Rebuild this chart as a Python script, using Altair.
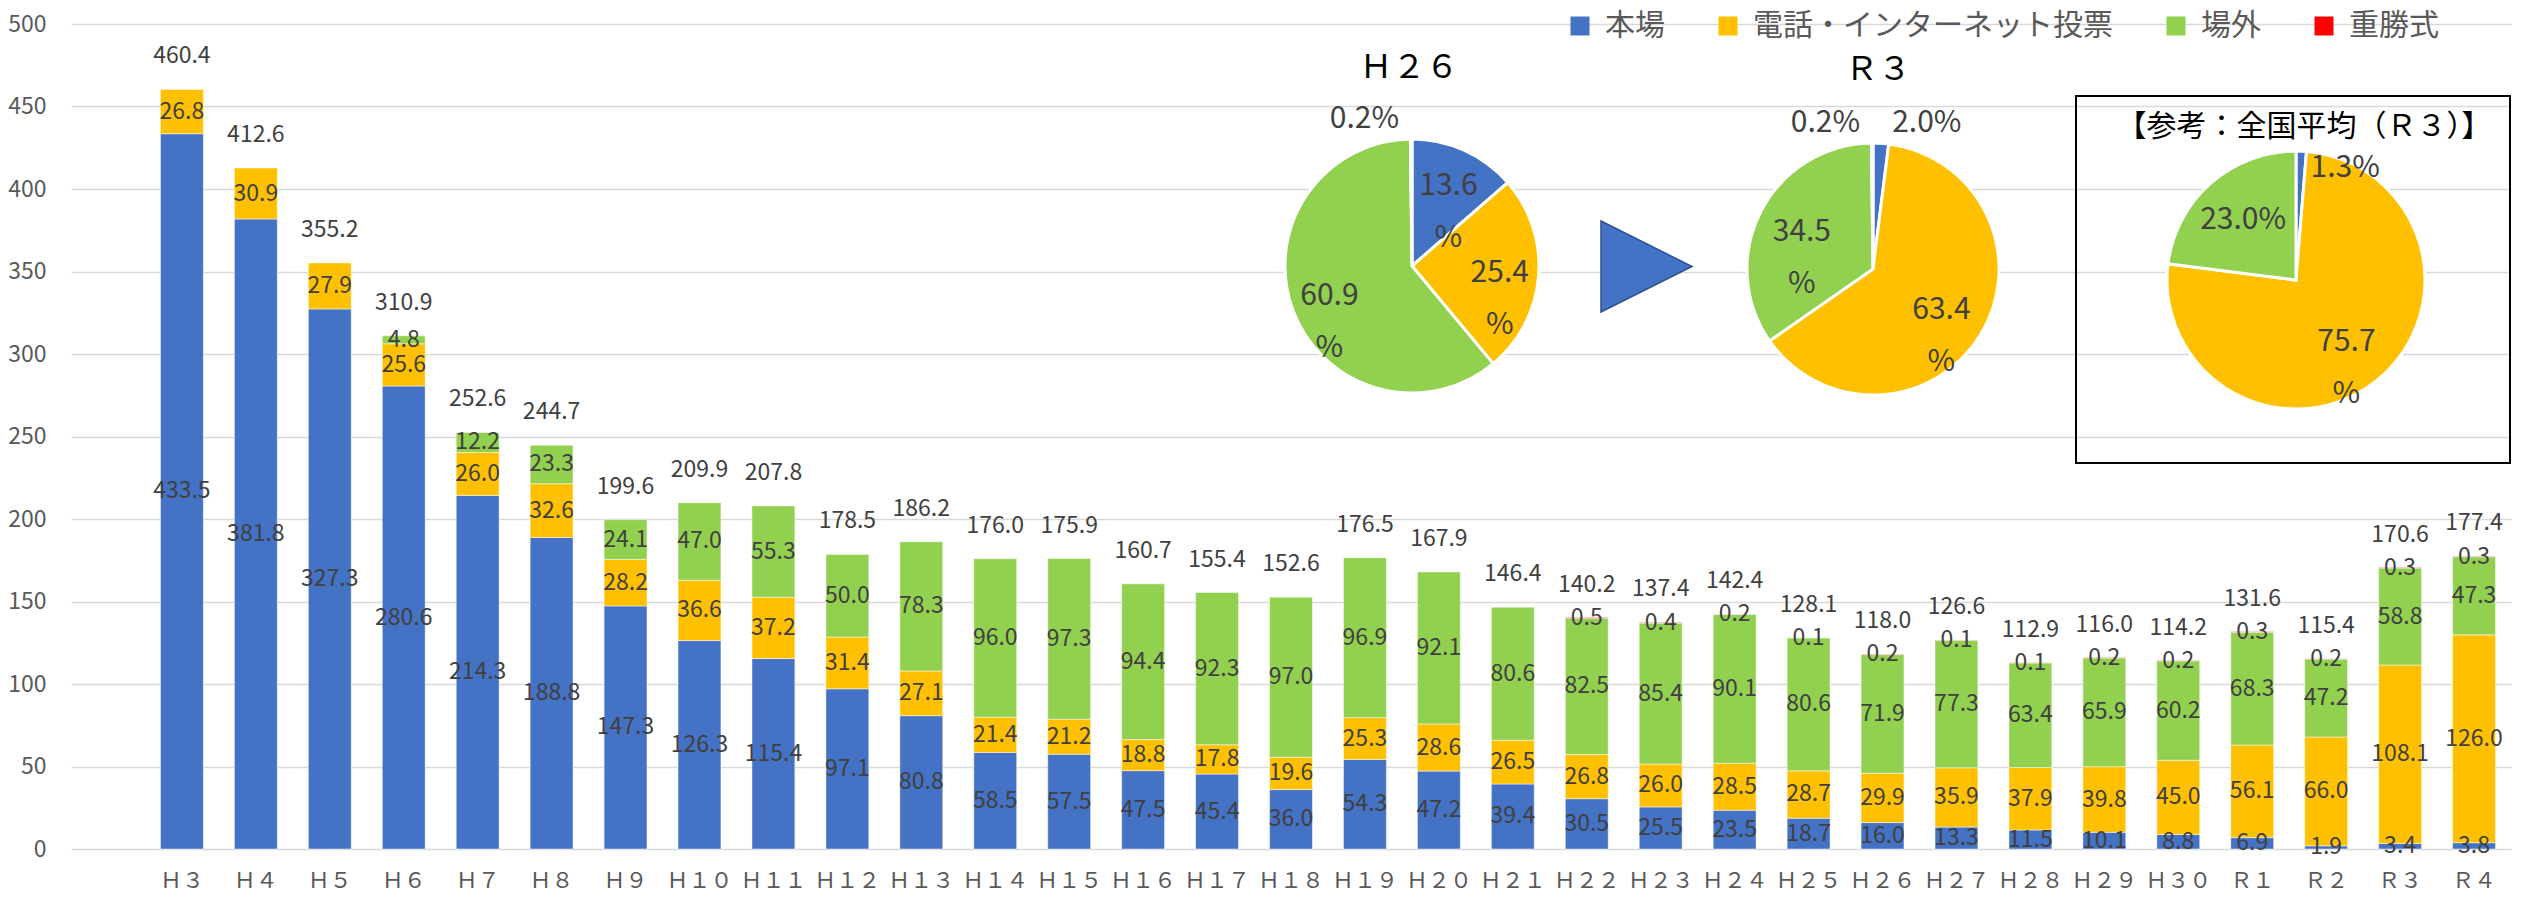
import altair as alt
import pandas as pd

FONT = "Noto Sans CJK JP"

# ---------------- data ----------------
years = ["Ｈ３", "Ｈ４", "Ｈ５", "Ｈ６", "Ｈ７", "Ｈ８", "Ｈ９", "Ｈ１０", "Ｈ１１", "Ｈ１２",
         "Ｈ１３", "Ｈ１４", "Ｈ１５", "Ｈ１６", "Ｈ１７", "Ｈ１８", "Ｈ１９", "Ｈ２０", "Ｈ２１",
         "Ｈ２２", "Ｈ２３", "Ｈ２４", "Ｈ２５", "Ｈ２６", "Ｈ２７", "Ｈ２８", "Ｈ２９", "Ｈ３０",
         "Ｒ１", "Ｒ２", "Ｒ３", "Ｒ４"]

series_names = ["本場", "電話・インターネット投票", "場外", "重勝式"]
series_colors = ["#4472C4", "#FFC000", "#92D050", "#FF0000"]

honjo = [433.5, 381.8, 327.3, 280.6, 214.3, 188.8, 147.3, 126.3, 115.4, 97.1,
         80.8, 58.5, 57.5, 47.5, 45.4, 36.0, 54.3, 47.2, 39.4,
         30.5, 25.5, 23.5, 18.7, 16.0, 13.3, 11.5, 10.1, 8.8,
         6.9, 1.9, 3.4, 3.8]
denwa = [26.8, 30.9, 27.9, 25.6, 26.0, 32.6, 28.2, 36.6, 37.2, 31.4,
         27.1, 21.4, 21.2, 18.8, 17.8, 19.6, 25.3, 28.6, 26.5,
         26.8, 26.0, 28.5, 28.7, 29.9, 35.9, 37.9, 39.8, 45.0,
         56.1, 66.0, 108.1, 126.0]
jogai = [0, 0, 0, 4.8, 12.2, 23.3, 24.1, 47.0, 55.3, 50.0,
         78.3, 96.0, 97.3, 94.4, 92.3, 97.0, 96.9, 92.1, 80.6,
         82.5, 85.4, 90.1, 80.6, 71.9, 77.3, 63.4, 65.9, 60.2,
         68.3, 47.2, 58.8, 47.3]
jusho = [0, 0, 0, 0, 0, 0, 0, 0, 0, 0,
         0, 0, 0, 0, 0, 0, 0, 0, 0,
         0.5, 0.4, 0.2, 0.1, 0.2, 0.1, 0.1, 0.2, 0.2,
         0.3, 0.2, 0.3, 0.3]
totals = [460.4, 412.6, 355.2, 310.9, 252.6, 244.7, 199.6, 209.9, 207.8, 178.5,
          186.2, 176.0, 175.9, 160.7, 155.4, 152.6, 176.5, 167.9, 146.4,
          140.2, 137.4, 142.4, 128.1, 118.0, 126.6, 112.9, 116.0, 114.2,
          131.6, 115.4, 170.6, 177.4]

pie_h26_values = [13.6, 25.4, 60.9, 0.2]
pie_h26_labels = ["13.6\n%", "25.4\n%", "60.9\n%", "0.2%"]
pie_r3_values = [2.0, 63.4, 34.5, 0.2]
pie_r3_labels = ["2.0%", "63.4\n%", "34.5\n%", "0.2%"]
pie_nat_values = [1.3, 75.7, 23.0]
pie_nat_labels = ["1.3%", "75.7\n%", "23.0%"]

title_h26 = "Ｈ２６"
title_r3 = "Ｒ３"
title_nat = "【参考：全国平均（Ｒ３）】"

# ---------------- tables ----------------
rows = []
for i, y in enumerate(years):
    for k, vals in enumerate([honjo, denwa, jogai, jusho]):
        if vals[i] > 0:
            rows.append({"year": y, "series": series_names[k], "value": vals[i], "k": k})
long_df = pd.DataFrame(rows)
tot_df = pd.DataFrame({"year": years, "total": totals})

x_domain = [" "] + years  # leading empty slot as in the original
x_scale = alt.Scale(domain=x_domain, paddingInner=0.42, paddingOuter=0.21)
y_scale = alt.Scale(domain=[0, 500], nice=False)

x_axis = alt.Axis(title=None, labelAngle=0, ticks=False, domain=False, grid=False,
                  labelFontSize=22, labelColor="#595959", labelPadding=21, labelFont=FONT)
y_axis = alt.Axis(title=None, values=list(range(0, 501, 50)), grid=True,
                  gridColor="#D9D9D9", gridWidth=1.5, domain=False, ticks=False,
                  labelPadding=25, labelFontSize=23, labelColor="#595959", labelFont=FONT)

legend = alt.Legend(title=None, orient="none", legendX=1494, legendY=-13,
                    direction="horizontal", columns=4, symbolType="square",
                    symbolSize=361, symbolStrokeWidth=0, labelFontSize=30,
                    labelColor="#595959", labelFont=FONT, labelOffset=10,
                    columnPadding=48, padding=0, labelLimit=0)
color_enc = alt.Color("series:N", scale=alt.Scale(domain=series_names, range=series_colors),
                      legend=legend)

X = alt.X("year:N", scale=x_scale, axis=x_axis, sort=x_domain)

bar_base = alt.Chart(long_df).transform_stack(
    stack="value", groupby=["year"], as_=["v0", "v1"],
    sort=[alt.SortField("k", order="ascending")]
).transform_calculate(mid="(datum.v0 + datum.v1) / 2")

bars = bar_base.mark_bar(stroke="#FFFFFF", strokeWidth=0.8, strokeOpacity=0.6).encode(
    x=X,
    y=alt.Y("v0:Q", scale=y_scale, axis=y_axis),
    y2="v1:Q",
    color=color_enc,
)

seg_labels = bar_base.mark_text(fontSize=23, color="#404040", baseline="middle", font=FONT).encode(
    x=X,
    y=alt.Y("mid:Q", scale=y_scale, axis=y_axis),
    text=alt.Text("value:Q", format=".1f"),
)

tot_labels = alt.Chart(tot_df).mark_text(fontSize=23, color="#404040", baseline="middle",
                                         dy=-33, font=FONT).encode(
    x=X,
    y=alt.Y("total:Q", scale=y_scale, axis=y_axis),
    text=alt.Text("total:Q", format=".1f"),
)


def pie(values, labels, cx, cy, r, big_r, blue_r, red_r):
    n = len(values)
    df = pd.DataFrame({
        "series": series_names[:n],
        "value": values,
        "idx": list(range(n)),
        "label": labels,
    })
    base = alt.Chart(df).encode(
        theta=alt.Theta("value:Q", stack=True),
        order=alt.Order("idx:Q"),
        x=alt.value(cx), y=alt.value(cy),
    )
    arc = base.mark_arc(outerRadius=r, stroke="white", strokeWidth=3).encode(color=color_enc)
    big = base.transform_calculate(t="datum.value >= 5 ? datum.label : ''").mark_text(
        radius=big_r, fontSize=30, color="#404040", lineBreak="\n", lineHeight=52,
        baseline="middle", font=FONT).encode(text="t:N")
    blue = base.transform_calculate(
        t="datum.value < 5 && datum.idx == 0 ? datum.label : ''").mark_text(
        radius=blue_r, fontSize=30, color="#404040", align="left", dx=10,
        baseline="middle", font=FONT).encode(text="t:N")
    red = base.transform_calculate(
        t="datum.value < 5 && datum.idx == 3 ? datum.label : ''").mark_text(
        radius=red_r, fontSize=30, color="#404040", align="right", dx=-12,
        baseline="middle", font=FONT).encode(text="t:N")
    return [arc, big, blue, red]


def note(text, x, y, size, color="#000000"):
    return alt.Chart(pd.DataFrame({"t": [text]})).mark_text(
        fontSize=size, color=color, baseline="middle", font=FONT).encode(
        text="t:N", x=alt.value(x), y=alt.value(y))


pie1 = pie(pie_h26_values, pie_h26_labels, 1341, 242, 127, 88, 147, 147)
pie2 = pie(pie_r3_values, pie_r3_labels, 1802, 245, 126, 80, 146, 146)
pie3 = pie(pie_nat_values, pie_nat_labels, 2225, 256, 129, 80, 112, 150)

arrow = alt.Chart(pd.DataFrame({"a": [1]})).mark_point(
    shape="M -1 -1 L 1 0 L -1 1 Z", size=91 * 91, filled=True, fill="#4472C4",
    stroke="#2F528F", strokeWidth=1.5, opacity=1).encode(
    x=alt.value(1575.5), y=alt.value(242.5))

box = alt.Chart(pd.DataFrame({"a": [1]})).mark_rect(
    fill="#FFFFFF", fillOpacity=0, stroke="#000000", strokeWidth=2).encode(
    x=alt.value(2005), x2=alt.value(2439), y=alt.value(72), y2=alt.value(439))

layers = [bars, seg_labels, tot_labels, box, arrow,
          note(title_h26, 1338, 44, 33), note(title_r3, 1807, 46, 33),
          note(title_nat, 2233, 103, 30)] + pie1 + pie2 + pie3

chart = alt.layer(*layers).resolve_scale(theta="independent").properties(
    width=2440, height=825,
    autosize=alt.AutoSizeParams(type="none"),
    padding={"left": 63, "top": 16, "right": 2, "bottom": 50},
).configure(font=FONT).configure_view(stroke=None)

chart.save("out.html", embed_options={"renderer": "svg", "actions": False})
